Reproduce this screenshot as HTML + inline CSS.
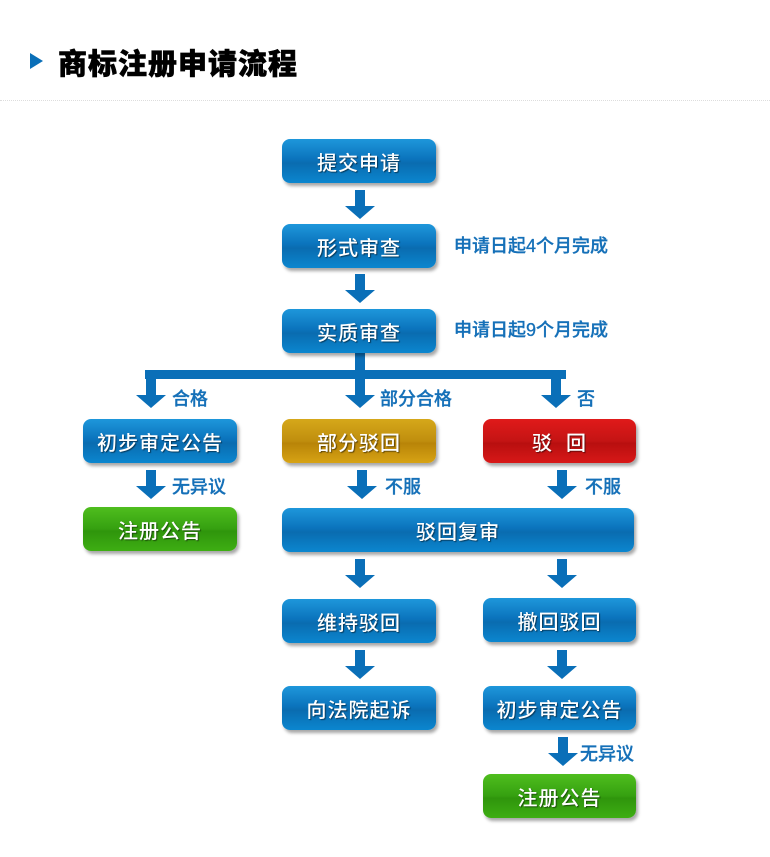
<!DOCTYPE html>
<html><head><meta charset="utf-8"><style>
body{margin:0;width:770px;height:857px;background:#fff;position:relative;overflow:hidden;font-family:"Liberation Sans","Noto Sans CJK SC",sans-serif}
.t{position:absolute;left:58px;top:41px;font-size:29px;font-weight:900;color:#000;letter-spacing:1px;-webkit-text-stroke:0.6px #000}
.tri{position:absolute;left:30px;top:53px;width:0;height:0;border-left:13px solid #0a6fb8;border-top:8px solid transparent;border-bottom:8px solid transparent}
.line{position:absolute;left:0;top:100px;width:770px;border-top:1px dotted #ddd}
.b{position:absolute;height:44px;border-radius:8px;color:#fff;font-size:20px;font-weight:500;display:flex;align-items:center;justify-content:center;letter-spacing:1px;text-shadow:1px 1px 1px rgba(0,0,0,.5);box-shadow:2px 3px 3px rgba(0,0,0,.35);background:linear-gradient(#1e97db,#0b74bd 45%,#0a6cb0 55%,#0b86cf)}
.g{background:linear-gradient(#4fbe1e,#35a010 50%,#2f950c 55%,#3eae13)}
.y{background:linear-gradient(#d6a81a,#c08e0e 50%,#b88408 55%,#d7a314)}
.r{background:linear-gradient(#e01a1a,#c41414 50%,#b80f0f 55%,#d81818)}
.l{position:absolute;color:#1570b8;font-size:18px;font-weight:500;-webkit-text-stroke:0.3px #1570b8}
svg{position:absolute;left:0;top:0}
</style></head><body>
<div class="tri"></div><div class="t">商标注册申请流程</div><div class="line"></div>
<svg width="770" height="857" fill="#0a6fb8">
<defs><path id="a" d="M-5 0h10v16h10l-15 13l-15-13h10z"/></defs>
<use href="#a" x="360" y="190"/>
<use href="#a" x="360" y="274"/>
<rect x="355" y="353" width="10" height="20"/>
<rect x="145" y="370" width="421" height="9"/>
<use href="#a" x="151" y="379"/>
<use href="#a" x="360" y="379"/>
<use href="#a" x="556" y="379"/>
<use href="#a" x="151" y="470"/>
<use href="#a" x="362" y="470"/>
<use href="#a" x="562" y="470"/>
<use href="#a" x="360" y="559"/>
<use href="#a" x="562" y="559"/>
<use href="#a" x="360" y="650"/>
<use href="#a" x="562" y="650"/>
<use href="#a" x="563" y="737"/>
</svg>
<div class="b" style="left:282px;top:139px;width:154px">提交申请</div>
<div class="b" style="left:282px;top:224px;width:154px">形式审查</div>
<div class="b" style="left:282px;top:309px;width:154px">实质审查</div>
<div class="l" style="left:454px;top:232px">申请日起4个月完成</div>
<div class="l" style="left:454px;top:316px">申请日起9个月完成</div>
<div class="l" style="left:172px;top:385px">合格</div>
<div class="l" style="left:380px;top:385px">部分合格</div>
<div class="l" style="left:577px;top:385px">否</div>
<div class="b" style="left:83px;top:419px;width:154px">初步审定公告</div>
<div class="b y" style="left:282px;top:419px;width:154px">部分驳回</div>
<div class="b r" style="left:483px;top:419px;width:153px">驳&nbsp;&nbsp;回</div>
<div class="l" style="left:172px;top:473px">无异议</div>
<div class="l" style="left:385px;top:473px">不服</div>
<div class="l" style="left:585px;top:473px">不服</div>
<div class="b g" style="left:83px;top:507px;width:154px">注册公告</div>
<div class="b" style="left:282px;top:508px;width:352px">驳回复审</div>
<div class="b" style="left:282px;top:599px;width:154px">维持驳回</div>
<div class="b" style="left:483px;top:598px;width:153px">撤回驳回</div>
<div class="b" style="left:282px;top:686px;width:154px">向法院起诉</div>
<div class="b" style="left:483px;top:686px;width:153px">初步审定公告</div>
<div class="l" style="left:580px;top:740px">无异议</div>
<div class="b g" style="left:483px;top:774px;width:153px">注册公告</div>
</body></html>
